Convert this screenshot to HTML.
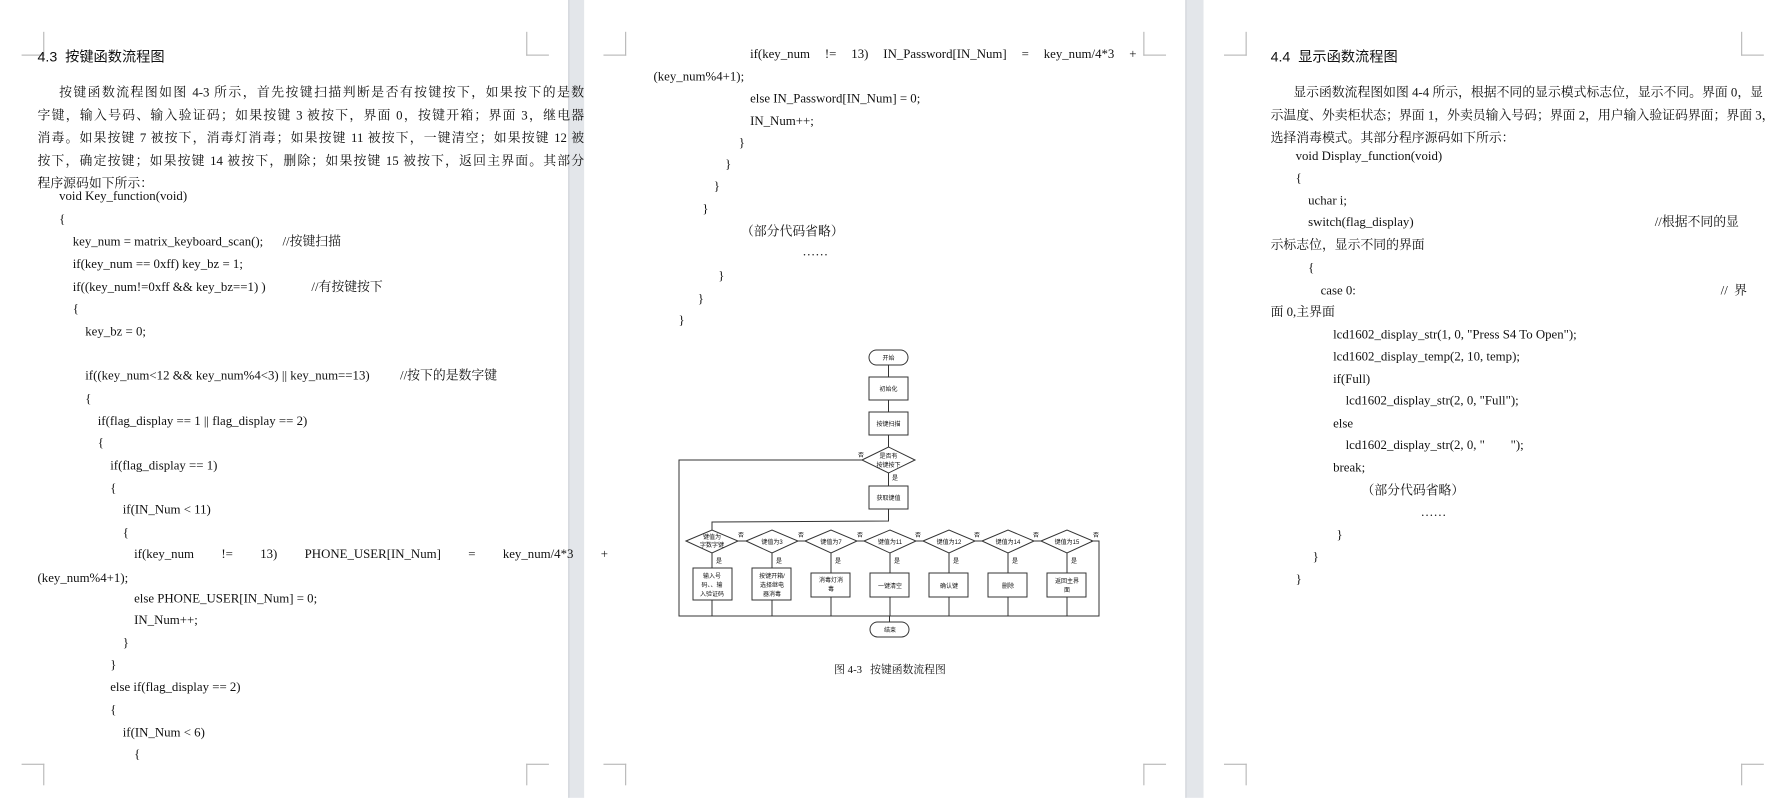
<!DOCTYPE html>
<html><head><meta charset="utf-8"><style>
html,body{margin:0;padding:0;width:1782px;height:798px;overflow:hidden;background:#fff}
#w{position:absolute;left:0;top:0;width:1568px;height:702px;transform:scale(1.13648);transform-origin:0 0;font-family:"Liberation Serif","Noto Serif CJK SC",serif;font-size:11.3px;color:#111}
.l{position:absolute;white-space:nowrap;line-height:14px}
.j{position:absolute;line-height:14px;text-align:justify;text-align-last:justify;white-space:nowrap}
.h{font-family:"Liberation Sans","Noto Sans CJK SC",sans-serif;font-size:12.5px}
.g{position:absolute;top:0;height:702px;background:#e3e6ea}
.m{position:absolute;border-color:#b8b8b8;border-style:solid;border-width:0}
</style></head><body><div id="w">
<div class="g" style="left:500px;width:13px;border-left:1px solid #cfd3d8"></div>
<div class="g" style="left:1043px;width:15px;border-left:1px solid #cfd3d8"></div>
<!-- corner marks -->
<div class="m" style="left:19px;top:28px;width:19px;height:20px;border-right-width:1px;border-bottom-width:1px"></div>
<div class="m" style="left:514px;top:28px;width:17px;height:20px;border-left-width:1px;border-bottom-width:1px;display:none"></div>
<div class="m" style="left:463px;top:28px;width:19px;height:20px;border-left-width:1px;border-bottom-width:1px"></div>
<div class="m" style="left:19px;top:672px;width:19px;height:18px;border-right-width:1px;border-top-width:1px"></div>
<div class="m" style="left:463px;top:672px;width:19px;height:18px;border-left-width:1px;border-top-width:1px"></div>
<div class="m" style="left:531px;top:28px;width:19px;height:20px;border-right-width:1px;border-bottom-width:1px"></div>
<div class="m" style="left:1006px;top:28px;width:19px;height:20px;border-left-width:1px;border-bottom-width:1px"></div>
<div class="m" style="left:531px;top:672px;width:19px;height:18px;border-right-width:1px;border-top-width:1px"></div>
<div class="m" style="left:1006px;top:672px;width:19px;height:18px;border-left-width:1px;border-top-width:1px"></div>
<div class="m" style="left:1077px;top:28px;width:19px;height:20px;border-right-width:1px;border-bottom-width:1px"></div>
<div class="m" style="left:1532px;top:28px;width:19px;height:20px;border-left-width:1px;border-bottom-width:1px"></div>
<div class="m" style="left:1077px;top:672px;width:19px;height:18px;border-right-width:1px;border-top-width:1px"></div>
<div class="m" style="left:1532px;top:672px;width:19px;height:18px;border-left-width:1px;border-top-width:1px"></div>

<!-- page 1 -->
<div class="l h" style="left:33px;top:43px">4.3&nbsp; 按键函数流程图</div>
<div class="j" style="left:52px;top:75px;width:462px">按键函数流程图如图 4-3 所示，首先按键扫描判断是否有按键按下，如果按下的是数</div>
<div class="j" style="left:33px;top:95px;width:481px">字键，输入号码、输入验证码；如果按键 3 被按下，界面 0，按键开箱；界面 3，继电器</div>
<div class="j" style="left:33px;top:115px;width:481px">消毒。如果按键 7 被按下，消毒灯消毒；如果按键 11 被按下，一键清空；如果按键 12 被</div>
<div class="j" style="left:33px;top:135px;width:481px">按下，确定按键；如果按键 14 被按下，删除；如果按键 15 被按下，返回主界面。其部分</div>
<div class="l" style="left:33px;top:155px">程序源码如下所示：</div>
<div class="l" style="left:52px;top:166px">void Key_function(void)</div>
<div class="l" style="left:52px;top:186px">{</div>
<div class="l" style="left:64px;top:206px">key_num = matrix_keyboard_scan();&nbsp;&nbsp;&nbsp;&nbsp;&nbsp; //按键扫描</div>
<div class="l" style="left:64px;top:226px">if(key_num == 0xff) key_bz = 1;</div>
<div class="l" style="left:64px;top:246px">if((key_num!=0xff &amp;&amp; key_bz==1) )</div>
<div class="l" style="left:274px;top:246px">//有按键按下</div>
<div class="l" style="left:64px;top:265px">{</div>
<div class="l" style="left:75px;top:285px">key_bz = 0;</div>
<div class="l" style="left:75px;top:324px">if((key_num&lt;12 &amp;&amp; key_num%4&lt;3) || key_num==13)</div>
<div class="l" style="left:352px;top:324px">//按下的是数字键</div>
<div class="l" style="left:75px;top:344px">{</div>
<div class="l" style="left:86px;top:364px">if(flag_display == 1 || flag_display == 2)</div>
<div class="l" style="left:86px;top:383px">{</div>
<div class="l" style="left:97px;top:403px">if(flag_display == 1)</div>
<div class="l" style="left:97px;top:423px">{</div>
<div class="l" style="left:108px;top:442px">if(IN_Num &lt; 11)</div>
<div class="l" style="left:108px;top:462px">{</div>
<div class="j" style="left:118px;top:481px;width:417px">if(key_num != 13) PHONE_USER[IN_Num] = key_num/4*3 +</div>
<div class="l" style="left:33px;top:502px">(key_num%4+1);</div>
<div class="l" style="left:118px;top:520px">else PHONE_USER[IN_Num] = 0;</div>
<div class="l" style="left:118px;top:539px">IN_Num++;</div>
<div class="l" style="left:108px;top:559px">}</div>
<div class="l" style="left:97px;top:578px">}</div>
<div class="l" style="left:97px;top:598px">else if(flag_display == 2)</div>
<div class="l" style="left:97px;top:618px">{</div>
<div class="l" style="left:108px;top:638px">if(IN_Num &lt; 6)</div>
<div class="l" style="left:118px;top:657px">{</div>

<!-- page 2 -->
<div class="j" style="left:660px;top:41px;width:340px">if(key_num != 13) IN_Password[IN_Num] = key_num/4*3 +</div>
<div class="l" style="left:575px;top:61px">(key_num%4+1);</div>
<div class="l" style="left:660px;top:80px">else IN_Password[IN_Num] = 0;</div>
<div class="l" style="left:660px;top:100px">IN_Num++;</div>
<div class="l" style="left:650px;top:119px">}</div>
<div class="l" style="left:638px;top:138px">}</div>
<div class="l" style="left:628px;top:157px">}</div>
<div class="l" style="left:618px;top:177px">}</div>
<div class="l" style="left:652px;top:197px">（部分代码省略）</div>
<div class="l" style="left:706px;top:215px">……</div>
<div class="l" style="left:632px;top:236px">}</div>
<div class="l" style="left:614px;top:256px">}</div>
<div class="l" style="left:597px;top:275px">}</div>
<div class="l" style="left:734px;top:583px;font-size:9.5px">图 4-3&nbsp;&nbsp; 按键函数流程图</div>

<!-- page 3 -->
<div class="l h" style="left:1118px;top:43px">4.4&nbsp; 显示函数流程图</div>
<div class="j" style="left:1138px;top:75px;width:398px">显示函数流程图如图 4-4 所示，根据不同的显示模式标志位，显示不同。界面 0，显</div>
<div class="j" style="left:1118px;top:95px;width:418px">示温度、外卖柜状态；界面 1，外卖员输入号码；界面 2，用户输入验证码界面；界面 3，</div>
<div class="l" style="left:1118px;top:115px">选择消毒模式。其部分程序源码如下所示：</div>
<div class="l" style="left:1140px;top:131px">void Display_function(void)</div>
<div class="l" style="left:1140px;top:150px">{</div>
<div class="l" style="left:1151px;top:170px">uchar i;</div>
<div class="l" style="left:1151px;top:189px">switch(flag_display)</div>
<div class="l" style="left:1456px;top:189px">//根据不同的显</div>
<div class="l" style="left:1118px;top:209px">示标志位，显示不同的界面</div>
<div class="l" style="left:1151px;top:229px">{</div>
<div class="l" style="left:1162px;top:249px">case 0:</div>
<div class="l" style="left:1514px;top:249px">//&nbsp; 界</div>
<div class="l" style="left:1118px;top:268px">面 0,主界面</div>
<div class="l" style="left:1173px;top:288px">lcd1602_display_str(1, 0, "Press S4 To Open");</div>
<div class="l" style="left:1173px;top:307px">lcd1602_display_temp(2, 10, temp);</div>
<div class="l" style="left:1173px;top:327px">if(Full)</div>
<div class="l" style="left:1184px;top:346px">lcd1602_display_str(2, 0, "Full");</div>
<div class="l" style="left:1173px;top:366px">else</div>
<div class="l" style="left:1184px;top:385px">lcd1602_display_str(2, 0, "&nbsp;&nbsp;&nbsp;&nbsp;&nbsp;&nbsp;&nbsp; ");</div>
<div class="l" style="left:1173px;top:405px">break;</div>
<div class="l" style="left:1198px;top:425px">（部分代码省略）</div>
<div class="l" style="left:1250px;top:444px">……</div>
<div class="l" style="left:1176px;top:464px">}</div>
<div class="l" style="left:1155px;top:483px">}</div>
<div class="l" style="left:1140px;top:503px">}</div>
</div>

<svg width="1782" height="798" style="position:absolute;left:0;top:0" font-family="Liberation Sans,Noto Sans CJK SC,sans-serif" font-size="6" text-anchor="middle">
<g fill="none" stroke="#333" stroke-width="1">
<rect x="869" y="350" width="39" height="15" rx="7.5"/>
<rect x="869" y="377" width="39" height="23"/>
<rect x="869" y="412" width="39" height="23"/>
<polygon points="862,460 888.5,447 915,460 888.5,473"/>
<rect x="869" y="486" width="39" height="23"/>
<rect x="870" y="622" width="39" height="15" rx="7.5"/>
<line x1="888.5" y1="365" x2="888.5" y2="377"/>
<line x1="888.5" y1="400" x2="888.5" y2="412"/>
<line x1="888.5" y1="435" x2="888.5" y2="447"/>
<line x1="888.5" y1="473" x2="888.5" y2="486"/>
<polyline points="888.5,509 888.5,521 712,522 712,530"/>
<polyline points="862,460 679,460 679,616 1099,616 1099,541 1091,541"/>
<line x1="889.5" y1="616" x2="889.5" y2="622"/>
<g id="d">
</g>
</g>
<g fill="none" stroke="#333">
<polygon points="686,541 712,530 738,541 712,553"/><polygon points="746,541 772,530 798,541 772,553"/>
<polygon points="805,541 831,530 857,541 831,553"/><polygon points="864,541 890,530 916,541 890,553"/>
<polygon points="923,541 949,530 975,541 949,553"/><polygon points="982,541 1008,530 1034,541 1008,553"/>
<polygon points="1041,541 1067,530 1093,541 1067,553"/>
<line x1="738" y1="541" x2="746" y2="541"/><line x1="798" y1="541" x2="805" y2="541"/>
<line x1="857" y1="541" x2="864" y2="541"/><line x1="916" y1="541" x2="923" y2="541"/>
<line x1="975" y1="541" x2="982" y2="541"/><line x1="1034" y1="541" x2="1041" y2="541"/>
<line x1="1093" y1="541" x2="1099" y2="541"/>
<rect x="693" y="568" width="39" height="32"/><rect x="752" y="568" width="39" height="32"/>
<rect x="811" y="573" width="39" height="24"/><rect x="870" y="573" width="39" height="24"/>
<rect x="929" y="573" width="39" height="24"/><rect x="988" y="573" width="39" height="24"/>
<rect x="1047" y="573" width="39" height="24"/>
<path d="M712 553V568M772 553V568M831 553V573M890 553V573M949 553V573M1008 553V573M1067 553V573"/>
<path d="M712 600V616M772 600V616M831 597V616M890 597V616M949 597V616M1008 597V616M1067 597V616"/>
</g>
<g fill="#111">
<text x="888.5" y="360">开始</text><text x="888.5" y="391">初始化</text><text x="888.5" y="426">按键扫描</text>
<text x="888.5" y="458">是否有</text><text x="888.5" y="467">按键按下</text>
<text x="861" y="457">否</text><text x="895" y="480">是</text>
<text x="888.5" y="500">获取键值</text><text x="890" y="632">结束</text>
<text x="712" y="539">键值为</text><text x="712" y="547">字数字键</text>
<text x="772" y="544">键值为3</text><text x="831" y="544">键值为7</text><text x="890" y="544">键值为11</text>
<text x="949" y="544">键值为12</text><text x="1008" y="544">键值为14</text><text x="1067" y="544">键值为15</text>
<text x="741" y="537">否</text><text x="801" y="537">否</text><text x="860" y="537">否</text><text x="918" y="537">否</text>
<text x="977" y="537">否</text><text x="1036" y="537">否</text><text x="1096" y="537">否</text>
<text x="719" y="563">是</text><text x="779" y="563">是</text><text x="838" y="563">是</text><text x="897" y="563">是</text>
<text x="956" y="563">是</text><text x="1015" y="563">是</text><text x="1074" y="563">是</text>
<text x="712" y="578">输入号</text><text x="712" y="587">码、、输</text><text x="712" y="596">入验证码</text>
<text x="772" y="578">按键开箱/</text><text x="772" y="587">选择继电</text><text x="772" y="596">器消毒</text>
<text x="831" y="582">消毒灯消</text><text x="831" y="591">毒</text>
<text x="890" y="588">一键清空</text><text x="949" y="588">确认键</text><text x="1008" y="588">删除</text>
<text x="1067" y="583">返回主界</text><text x="1067" y="592">面</text>
</g>
</svg>
</body></html>
